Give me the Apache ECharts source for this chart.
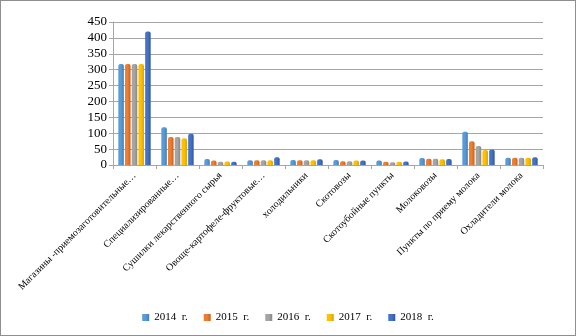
<!DOCTYPE html>
<html><head><meta charset="utf-8">
<script src="https://cdn.jsdelivr.net/npm/echarts@6/dist/echarts.min.js"></script>
<style>html,body{margin:0;padding:0;background:#fff}#c{width:576px;height:336px;box-sizing:border-box;border:1px solid #8f8f8f}</style>
</head><body><div id="c"></div>
<script>
const categories = ["Магазины -приемозаготовительные…","Специализированные…","Сушилки лекарственного сырья","Овоще-картофеле-фруктовые…","холодильники","Скотовозы","Скотоубойные пункты","Молоковозы","Пункты по приему молока","Охладители молока"];
const seriesNames = ["2014  г.","2015  г.","2016  г.","2017  г.","2018  г."];
const v2014 = [318,119,19,15,16,16,14,22,105,23];
const v2015 = [318,88,14,15,15,12,10,20,75,23];
const v2016 = [318,88,10,15,15,12,9,20,60,23];
const v2017 = [318,84,11,15,15,14,10,18,47,23];
const v2018 = [420,98,10,24,18,14,11,19,49,24];
const yTicks = {min:0,max:450,interval:50};
const colors = ["#5B9BD5","#ED7D31","#A5A5A5","#FFC000","#4472C4"];
const darker = ["#3f7fb9","#c8601a","#878787","#d9a300","#2f579f"];
const values = [v2014,v2015,v2016,v2017,v2018];
const chart = echarts.init(document.getElementById('c'));
chart.setOption({
  animation:false,
  textStyle:{fontFamily:'Liberation Serif'},
  grid:{left:112,right:32,top:21,bottom:170},
  legend:{bottom:7,left:'center',icon:'rect',itemWidth:7,itemHeight:7,itemGap:16,
    textStyle:{fontFamily:'Liberation Serif',fontSize:11,color:'#000'}},
  xAxis:{type:'category',data:categories,
    axisLine:{lineStyle:{color:'#a6a6a6'}},
    axisTick:{show:true,lineStyle:{color:'#a6a6a6'},length:4},
    axisLabel:{rotate:45,interval:0,fontSize:10,color:'#000',fontFamily:'Liberation Serif',margin:9}},
  yAxis:{type:'value',min:yTicks.min,max:yTicks.max,interval:yTicks.interval,
    axisLine:{show:true,lineStyle:{color:'#a6a6a6'}},
    axisTick:{show:true,length:4,lineStyle:{color:'#a6a6a6'}},
    splitLine:{lineStyle:{color:'#a6a6a6'}},
    axisLabel:{fontSize:13,color:'#000',fontFamily:'Liberation Serif',margin:6}},
  series:values.map((d,i)=>({
    name:seriesNames[i],type:'bar',data:d,barWidth:5.5,barGap:'22%',
    itemStyle:{color:new echarts.graphic.LinearGradient(0,0,1,0,[
      {offset:0,color:colors[i]},{offset:0.5,color:colors[i]},{offset:1,color:darker[i]}]),
      borderRadius:[2,2,0,0]}
  })),
  color:colors
});
</script></body></html>
